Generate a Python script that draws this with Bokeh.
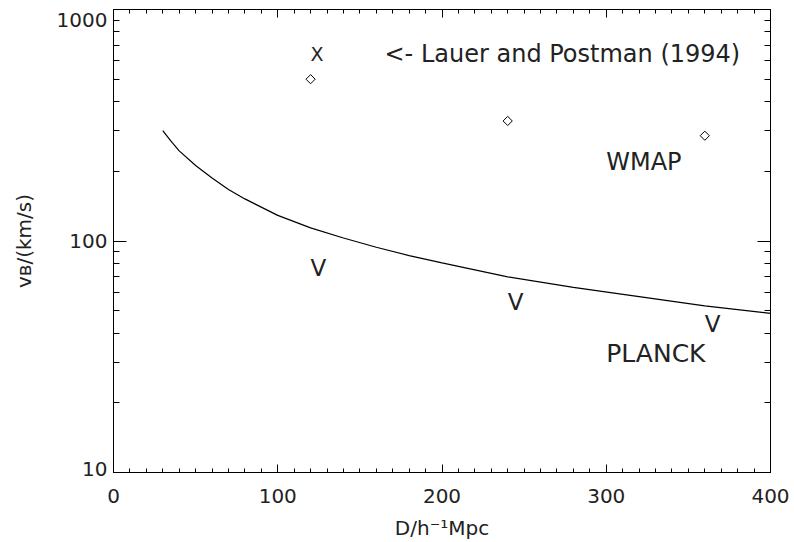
import numpy as np
from bokeh.plotting import figure
from bokeh.models import Range1d, FixedTicker, LinearAxis, LogAxis
from bokeh.core.properties import value
from bokeh.embed import file_html
from bokeh.resources import INLINE

# ---- data ----
curve_d = [30, 35, 40, 50, 60, 70, 80, 100, 120, 140, 160, 180, 200, 240, 280, 320, 360, 400]
curve_v = [300, 270, 245, 212, 187, 167, 152, 129, 114, 103, 94, 86.5, 80.5, 70, 63, 57.5, 52.5, 48.7]

lp_d = [120, 240, 360]          # Lauer & Postman (1994) points (diamonds)
lp_v = [500, 330, 285]

lim_d = [120, 240, 360]         # upper-limit "V" markers
lim_v = [70, 50, 40]

x_ticks = [0, 100, 200, 300, 400]
x_minor = list(range(0, 401, 10))
y_ticks = [10, 100, 1000]
y_tick_labels = ["10\n", "100", "\n1000"]   # edge labels nudged inside, as in the original
y_minor = [m * 10 ** e for e in (1, 2) for m in range(2, 10)]

FONT = "DejaVu Sans"
INK = "#222222"
TXT_SHIFT = -9   # pixel nudge of in-plot texts

p = figure(width=794, height=542,
           x_range=Range1d(0, 400), y_range=Range1d(10, 1000),
           y_axis_type="log", output_backend="svg", toolbar_location=None,
           min_border_left=113, min_border_right=24,
           min_border_top=9, min_border_bottom=69)
p.grid.visible = False
p.outline_line_color = "black"
p.outline_line_width = 1
p.background_fill_color = "white"
p.border_fill_color = "white"

hidden = dict(major_label_text_font_size="1px", major_label_text_color=None,
              major_label_standoff=0)

# bottom axis
bx = p.below[0]
bx.ticker = FixedTicker(ticks=x_ticks, minor_ticks=x_minor)
bx.major_tick_in = 8
bx.major_tick_out = 0
bx.minor_tick_in = 4
bx.minor_tick_out = 0
bx.axis_line_color = "black"
bx.major_tick_line_color = "black"
bx.minor_tick_line_color = "black"
bx.major_label_text_font = FONT
bx.major_label_text_font_size = "20px"
bx.major_label_text_color = INK
bx.major_label_standoff = 16
bx.axis_label = "D/h\u207b\u00b9Mpc"
bx.axis_label_text_font = FONT
bx.axis_label_text_font_size = "20px"
bx.axis_label_text_font_style = "normal"
bx.axis_label_text_color = INK
bx.axis_label_standoff = 10

# left axis
ly = p.left[0]
ly.ticker = FixedTicker(ticks=y_ticks, minor_ticks=y_minor)
ly.major_label_overrides = {t: s for t, s in zip(y_ticks, y_tick_labels)}
ly.major_tick_in = 13
ly.major_tick_out = 0
ly.minor_tick_in = 6
ly.minor_tick_out = 0
ly.axis_line_color = "black"
ly.major_tick_line_color = "black"
ly.minor_tick_line_color = "black"
ly.major_label_text_font = FONT
ly.major_label_text_font_size = "20px"
ly.major_label_text_line_height = 0.3
ly.major_label_text_color = INK
ly.major_label_standoff = 6
ly.axis_label = "v\u0299/(km/s)"
ly.axis_label_text_font = FONT
ly.axis_label_text_font_size = "20px"
ly.axis_label_text_font_style = "normal"
ly.axis_label_text_color = INK
ly.axis_label_standoff = 18

# top axis
tx = LinearAxis(ticker=FixedTicker(ticks=x_ticks, minor_ticks=x_minor),
                major_tick_in=8, major_tick_out=0, minor_tick_in=4, minor_tick_out=0,
                axis_line_color="black", major_tick_line_color="black",
                minor_tick_line_color="black", **hidden)
p.add_layout(tx, "above")

# right axis
ry = LogAxis(ticker=FixedTicker(ticks=y_ticks, minor_ticks=y_minor),
             major_tick_in=13, major_tick_out=0, minor_tick_in=6, minor_tick_out=0,
             axis_line_color="black", major_tick_line_color="black",
             minor_tick_line_color="black", **hidden)
p.add_layout(ry, "right")

# curve
p.line(curve_d, curve_v, line_color="black", line_width=1.2)

# diamonds
p.scatter(lp_d, lp_v, marker="square", angle=np.pi / 4, size=6.5,
          fill_color=None, line_color="black", line_width=1)

txt = dict(text_font=value(FONT), text_color=INK, text_align="left",
           text_baseline="alphabetic", y_offset=TXT_SHIFT)

# upper limits
p.text(lim_d, lim_v, text=["V"] * len(lim_d), text_font_size="23px", **txt)

# annotations
p.text([120], [590], text=["X"], text_font_size="19px", **txt)
p.text([165], [590], text=["<- Lauer and Postman (1994)"], text_font_size="24px", **txt)
p.text([300], [200], text=["WMAP"], text_font_size="24px", **txt)
p.text([300], [30], text=["PLANCK"], text_font_size="25px", **txt)

open("out.html", "w").write(file_html(p, INLINE))
